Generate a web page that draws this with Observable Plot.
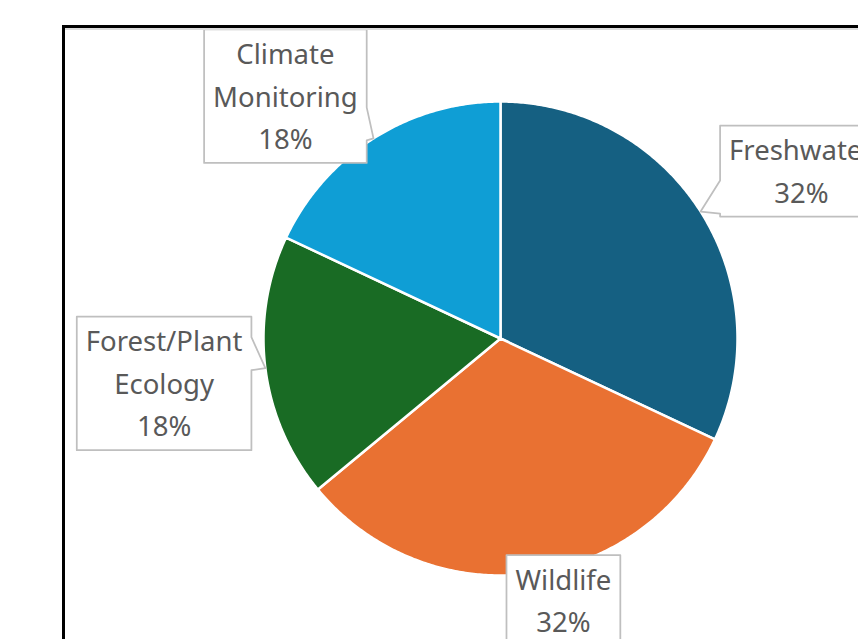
<!DOCTYPE html>
<html><head><meta charset="utf-8">
<script src="https://cdn.jsdelivr.net/npm/d3@7"></script>
<script src="https://cdn.jsdelivr.net/npm/@observablehq/plot@0.6"></script>
<style>
html,body{margin:0;padding:0;background:#fff;}
#wrap{position:relative;width:858px;height:639px;overflow:hidden;background:#fff;}
#wrap svg{position:absolute;left:0;top:0;}
#frame{position:absolute;left:62px;top:25px;width:900px;height:700px;border-left:3px solid #000;border-top:3px solid #000;box-sizing:border-box;pointer-events:none;}
#shade{position:absolute;left:65px;top:28px;width:900px;height:2px;background:#dcdcdc;pointer-events:none;}
</style></head>
<body><div id="wrap"></div>
<script>
// ---- data ----
const categories = ["Freshwater", "Wildlife", "Forest/Plant Ecology", "Climate Monitoring"];
const shares = [32, 32, 18, 18];
const labelLines = [["Freshwater"], ["Wildlife"], ["Forest/Plant", "Ecology"], ["Climate", "Monitoring"]];
const colors = ["#156082", "#E97132", "#196B24", "#0F9ED5"];

// ---- layout (not data) ----
const W = 858, H = 639, CX = 500, CY = 338, RAD = 237;
const FONT = "Noto Sans", FS = 27.5, LH = 42.5, PADX = 9, PADY = 3;
const labelLayout = [{dA: 3.3, r: 1.453}, {dA: -6.3, r: 1.137}, {dA: -0.4, r: 1.432}, {dA: -9.2, r: 1.367}];

const arcs = d3.pie().sort(null).value(d => d)(shares);
const slices = [];
arcs.forEach((a, i) => {
  const cat = categories[i];
  const n = Math.max(2, Math.ceil((a.endAngle - a.startAngle) / (Math.PI / 360)));
  slices.push({cat, x: 0, y: 0});
  for (let k = 0; k <= n; k++) {
    const t = a.startAngle + (a.endAngle - a.startAngle) * k / n;
    slices.push({cat, x: Math.sin(t), y: Math.cos(t)});
  }
  slices.push({cat, x: 0, y: 0});
});

const ctx = document.createElement("canvas").getContext("2d");
ctx.font = `${FS}px "${FONT}"`;
const callouts = [], texts = [];
arcs.forEach((a, i) => {
  const cat = categories[i];
  const lines = [...labelLines[i], `${shares[i]}%`];
  const mid = (a.startAngle + a.endAngle) / 2;
  const la = mid + labelLayout[i].dA * Math.PI / 180;
  const lx = labelLayout[i].r * Math.sin(la), ly = labelLayout[i].r * Math.cos(la);
  texts.push({cat, x: lx, y: ly, text: lines.join("\n")});
  const bw = Math.max(...lines.map(s => ctx.measureText(s).width)) + 2 * PADX;
  const bh = lines.length * LH + 2 * PADY;
  const pcx = lx * RAD, pcy = -ly * RAD;
  const L = pcx - bw / 2, Rt = pcx + bw / 2, T = pcy - bh / 2, B = pcy + bh / 2;
  const tx = Math.sin(mid) * RAD, ty = -Math.cos(mid) * RAD;
  const b1 = Math.max(T, ty - 31), b2 = Math.min(B, ty + 2);
  let pts;
  if (tx > Rt) pts = [[L, T], [Rt, T], [Rt, b1], [tx, ty], [Rt, b2], [Rt, B], [L, B]];
  else if (tx < L) pts = [[L, T], [Rt, T], [Rt, B], [L, B], [L, b2], [tx, ty], [L, b1]];
  else pts = [[L, T], [Rt, T], [Rt, B], [L, B]];
  pts.push(pts[0]);
  pts.forEach(([px, py]) => callouts.push({cat, x: px / RAD, y: -py / RAD}));
});

const chart = Plot.plot({
  width: W, height: H, margin: 0,
  x: {domain: [-CX / RAD, (W - CX) / RAD], axis: null},
  y: {domain: [-(H - CY) / RAD, CY / RAD], axis: null},
  color: {domain: categories, range: colors},
  style: {fontFamily: FONT, background: "white"},
  marks: [
    Plot.line(slices, {x: "x", y: "y", z: "cat", fill: "cat", stroke: "white", strokeWidth: 2.5}),
    Plot.line(callouts, {x: "x", y: "y", z: "cat", fill: "white", stroke: "#BFBFBF", strokeWidth: 1.75}),
    Plot.text(texts, {x: "x", y: "y", text: "text", fill: "#595959", fontSize: FS, lineHeight: LH / FS, dy: -3})
  ]
});
const wrap = document.getElementById("wrap");
wrap.appendChild(chart);
const shade = document.createElement("div"); shade.id = "shade"; wrap.appendChild(shade);
const frame = document.createElement("div"); frame.id = "frame"; wrap.appendChild(frame);
</script>
</body></html>
